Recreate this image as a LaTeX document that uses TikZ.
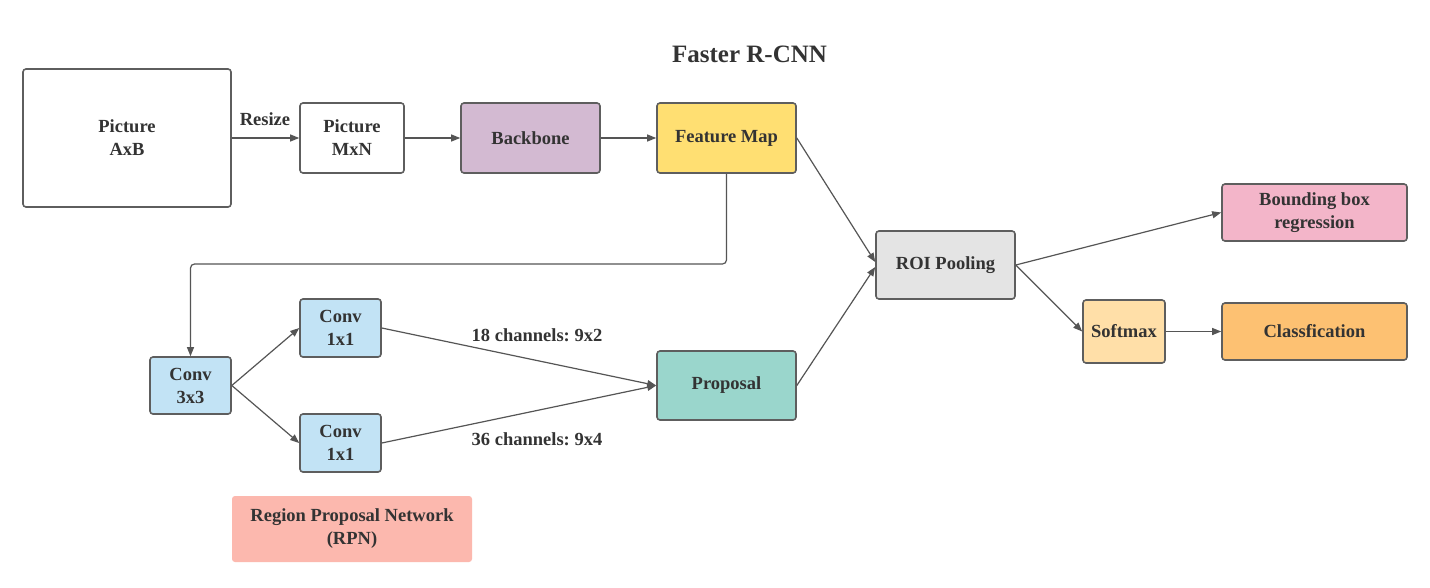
\documentclass[tikz,border=0pt]{standalone}
\usepackage{fontspec}
\setmainfont{Liberation Serif}
\usetikzlibrary{arrows.meta,calc}
\definecolor{txt}{HTML}{333333}
\definecolor{bord}{HTML}{5E5E5E}
\definecolor{arrc}{HTML}{555555}
\definecolor{cback}{HTML}{D3BAD2}
\definecolor{cfeat}{HTML}{FFDF72}
\definecolor{cconv}{HTML}{C2E3F5}
\definecolor{cprop}{HTML}{9AD6CC}
\definecolor{croi}{HTML}{E4E4E4}
\definecolor{cbbr}{HTML}{F3B5C9}
\definecolor{csoft}{HTML}{FFDFA8}
\definecolor{ccls}{HTML}{FDC172}
\definecolor{crpn}{HTML}{FCB8AE}
\tikzset{
  box/.style={draw=bord, line width=1.6pt, rounded corners=3pt, align=center,
    text=txt, font=\fontsize{18.5}{23}\selectfont\bfseries, inner sep=0pt},
  arr/.style={draw=arrc, line width=1.2pt, -{Triangle[length=9pt,width=7pt]}},
  lbl/.style={text=txt, font=\fontsize{18.5}{23}\selectfont\bfseries, inner sep=0pt},
}
\begin{document}
\frenchspacing
\begin{tikzpicture}[x=1pt,y=-1pt]
\useasboundingbox (0,0) rectangle (1430,587);
\fill[white] (0,0) rectangle (1430,587);

\node[lbl, font=\fontsize{25}{30}\selectfont\bfseries] (title) at (749.5,54) {Faster R-CNN};

\node[box, fill=white, minimum width=208pt, minimum height=138pt] (pab) at (127,138) {Picture\\AxB};
\node[box, fill=white, minimum width=104pt, minimum height=70pt] (pmn) at (352,138) {Picture\\MxN};
\node[box, fill=cback, minimum width=139pt, minimum height=70pt] (bb) at (530.5,138) {Backbone};
\node[box, fill=cfeat, minimum width=139pt, minimum height=70pt] (fm) at (726.5,138) {Feature Map};

\node[box, fill=cconv, minimum width=81pt, minimum height=57pt] (c33) at (190.5,385.5) {Conv\\3x3};
\node[box, fill=cconv, minimum width=81pt, minimum height=58pt] (c1a) at (340.5,328) {Conv\\1x1};
\node[box, fill=cconv, minimum width=81pt, minimum height=58pt] (c1b) at (340.5,443) {Conv\\1x1};
\node[box, fill=cprop, minimum width=139pt, minimum height=69pt] (prop) at (726.5,385.5) {Proposal};
\node[box, fill=croi, minimum width=139pt, minimum height=68pt] (roi) at (945.5,265) {ROI Pooling};
\node[box, fill=cbbr, minimum width=185pt, minimum height=57pt] (bbr) at (1314.5,212.5) {Bounding box\\regression};
\node[box, fill=csoft, minimum width=82pt, minimum height=63pt] (sm) at (1124,331.5) {Softmax};
\node[box, fill=ccls, minimum width=185pt, minimum height=57pt] (cls) at (1314.5,331.5) {Classfication};
\node[box, draw=none, fill=crpn, minimum width=240pt, minimum height=66pt] (rpn) at (352,529) {Region Proposal Network\\(RPN)};

\node[lbl] (rsz) at (265,119) {Resize};
\node[lbl] (l18) at (537,335) {18 channels: 9x2};
\node[lbl] (l36) at (537,439) {36 channels: 9x4};

\coordinate (turn) at (0,264);

\draw[arr] (pab.east) -- (pmn.west);
\draw[arr] (pmn.east) -- (bb.west);
\draw[arr] (bb.east) -- (fm.west);
\draw[arr] (fm.east) -- ($(roi.west)+(0,-3)$);
\draw[arr] (prop.east) -- ($(roi.west)+(0,2)$);
\draw[arr, rounded corners=4pt] (fm.south) |- (c33.north |- turn) -- (c33.north);
\draw[arr] (c33.east) -- (c1a.west);
\draw[arr] (c33.east) -- (c1b.west);
\draw[arr] (c1a.east) -- (prop.west);
\draw[arr] (c1b.east) -- (prop.west);
\draw[arr] (roi.east) -- (bbr.west);
\draw[arr] (roi.east) -- (sm.west);
\draw[arr] (sm.east) -- (cls.west);
\end{tikzpicture}
\end{document}
